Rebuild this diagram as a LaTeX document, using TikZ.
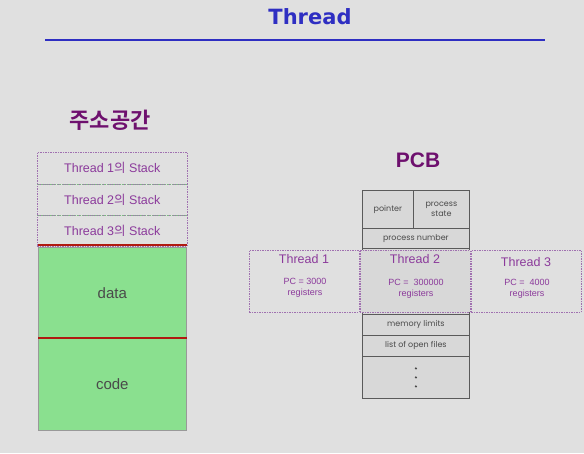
\documentclass[tikz,border=0pt]{standalone}
\usepackage{fontspec}
\setmainfont{Liberation Sans}
\newfontfamily\kr{Noto Sans CJK KR}
\newfontfamily\krb{Noto Sans CJK KR Bold}
\newfontfamily\titlefont{DejaVu Sans}
\newfontfamily\pcbfont{Poppins}
\definecolor{bg}{HTML}{E0E0E0}
\definecolor{ttlblue}{HTML}{2E2EC2}
\definecolor{purp}{HTML}{6E106E}
\definecolor{lpurp}{HTML}{8B3A9B}
\definecolor{dashp}{HTML}{A070B0}
\definecolor{grn}{HTML}{8AE08F}
\definecolor{redl}{HTML}{B01A10}
\definecolor{pcbfill}{HTML}{D8D8D8}
\definecolor{pcbline}{HTML}{5A5A5A}
\definecolor{txtgray}{HTML}{4A4A4A}
\definecolor{sepgreen}{HTML}{7FB884}
\tikzset{
  stackbox/.style={draw=dashp, dash pattern=on 1.5pt off 1pt, line width=0.6pt, inner sep=0pt, anchor=north west, minimum width=150pt, text=lpurp, font=\fontsize{12.5}{14}\selectfont},
  segbox/.style={draw=gray!80, fill=grn, line width=0.6pt, inner sep=0pt, anchor=north west, minimum width=148pt, text=txtgray, font=\fontsize{15}{17}\selectfont},
  pcbcell/.style={draw=pcbline, fill=pcbfill, line width=0.8pt, inner sep=0pt, anchor=north west, text=txtgray, font=\pcbfont\fontsize{8}{10}\selectfont, align=center},
  thrbox/.style={draw=dashp, dash pattern=on 1.5pt off 1pt, line width=0.6pt, inner sep=0pt, anchor=north west, minimum width=110pt, minimum height=62pt},
  thrname/.style={text=lpurp, font=\fontsize{12.5}{14}\selectfont},
  thrinfo/.style={text=lpurp, font=\fontsize{9}{11}\selectfont, align=center},
  pcbdot/.style={fill=txtgray, draw=none},
  sepline/.style={draw=sepgreen, dash pattern=on 1pt off 0.8pt},
}
\begin{document}
\begin{tikzpicture}[x=1pt,y=-1pt]
\fill[bg] (0,0) rectangle (584,453);
\useasboundingbox (0,0) rectangle (584,453);
% title
\node[text=ttlblue, font=\titlefont\bfseries\fontsize{21}{24}\selectfont] (title) at (310,17) {Thread};
\coordinate (tl) at (45,40);
\coordinate (tr) at (545,40);
\draw[ttlblue, line width=2.6pt] (tl) -- (tr);
% address space
\node[text=purp, font=\krb\fontsize{22}{26}\selectfont] (as) at (110,120) {주소공간};
\node[stackbox, minimum height=32pt] (s1) at (37,152) {Thread 1{\kr 의} Stack};
\node[stackbox, minimum height=31pt] (s2) at (37,184) {Thread 2{\kr 의} Stack};
\node[stackbox, minimum height=31pt] (s3) at (37,215) {Thread 3{\kr 의} Stack};
\draw[sepline, line width=1pt] (s1.south west) -- (s1.south east);
\draw[sepline, line width=1.6pt] (s2.south west) -- (s2.south east);
\node[segbox, minimum height=91pt] (data) at (38,247) {data};
\node[segbox, minimum height=92pt] (code) at (38,338) {code};
\draw[redl, line width=2pt] ([yshift=2pt]data.north west) -- ([yshift=2pt]data.north east);
\draw[redl, line width=2pt] (code.north west) -- (code.north east);
% PCB
\node[text=purp, font=\bfseries\fontsize{21}{24}\selectfont] (pcb) at (418,160) {PCB};
\node[pcbcell, minimum width=51pt, minimum height=38pt] (ptr) at (362,190) {pointer};
\node[pcbcell, minimum width=56pt, minimum height=38pt] (pst) at (413,190) {process\\state};
\node[pcbcell, minimum width=107pt, minimum height=20pt] (pnum) at (362,228) {process number};
\node[pcbcell, minimum width=107pt, minimum height=66pt] (pmid) at (362,248) {};
\node[pcbcell, minimum width=107pt, minimum height=21pt] (mem) at (362,314) {memory limits};
\node[pcbcell, minimum width=107pt, minimum height=21pt] (files) at (362,335) {list of open files};
\node[pcbcell, minimum width=107pt, minimum height=42pt] (dots) at (362,356) {};
\fill[pcbdot] ([yshift=-9pt]dots.center) circle (1.2pt);
\fill[pcbdot] (dots.center) circle (1.2pt);
\fill[pcbdot] ([yshift=9pt]dots.center) circle (1.2pt);
% threads
\node[thrbox] (t1) at (249,250) {};
\node[thrbox, fill=pcbfill] (t2) at (359.5,250) {};
\node[thrbox] (t3) at (471,250) {};
\node[thrname] (t1n) at (304,259) {Thread 1};
\node[thrname] (t2n) at (415,259) {Thread 2};
\node[thrname] (t3n) at (526,262) {Thread 3};
\node[thrinfo] (t1i) at (305,288) {PC = 3000\\registers};
\node[thrinfo] (t2i) at (416,289) {PC =\ \ 300000\\registers};
\node[thrinfo] (t3i) at (527,289) {PC =\ \ 4000\\registers};
\end{tikzpicture}
\end{document}
